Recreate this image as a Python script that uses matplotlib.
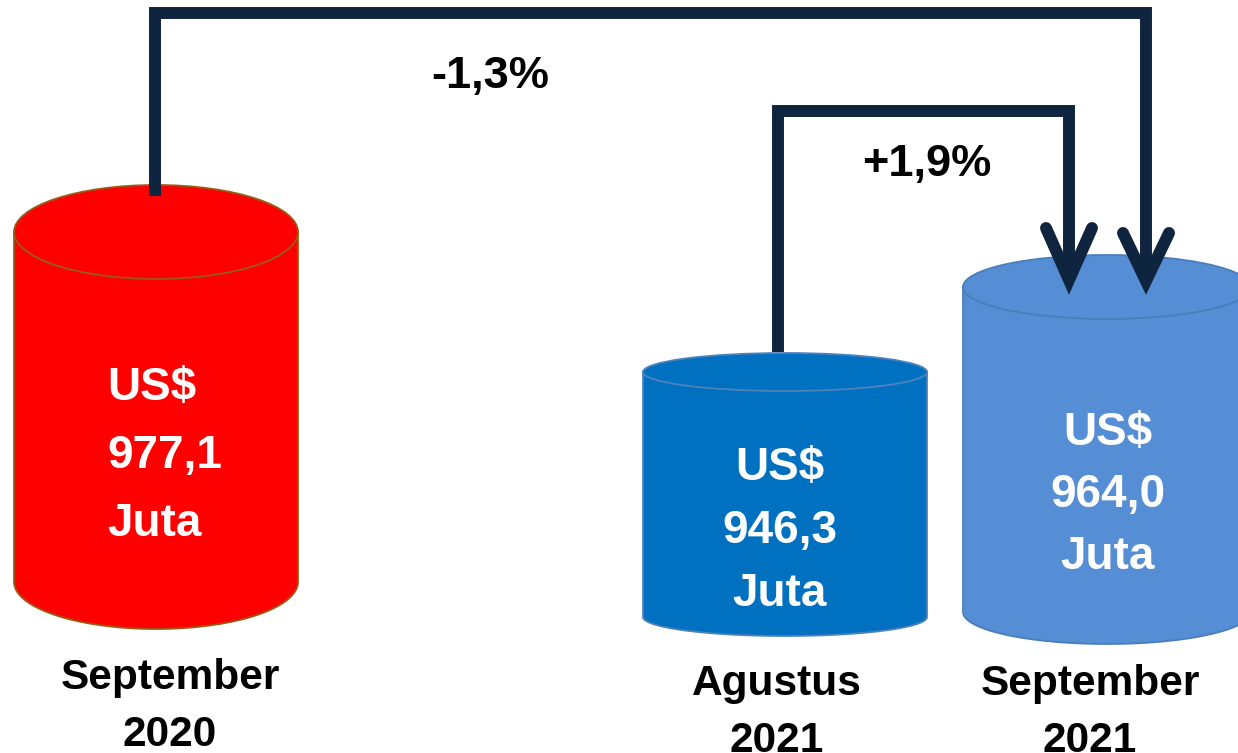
import numpy as np
import matplotlib.pyplot as plt
from matplotlib.patches import Ellipse, Polygon

# data
periods = ['September\n2020', 'Agustus\n2021', 'September\n2021']
values = [977.1, 946.3, 964.0]
changes = ['-1,3%', '+1,9%']

# layout (pixel space)
W, H = 1238, 753
cyl_x0 = [14, 643, 963]
cyl_x1 = [298, 927, 1251]
cyl_top = [232, 372, 287]
cyl_bot = [582, 617, 612]
cyl_ry = [47, 19, 32]
cyl_face = ['#FF0000', '#0070C0', '#558ED5']
cyl_edge = ['#9A5B18', '#4F81BD', '#4A7EBB']
navy = '#0F243E'

plt.rcParams['font.family'] = ['Liberation Sans', 'DejaVu Sans']

fig = plt.figure(figsize=(W / 100, H / 100), dpi=100)
ax = fig.add_axes([0, 0, 1, 1])
ax.set_xlim(0, W)
ax.set_ylim(H, 0)
ax.axis('off')


def cylinder(x0, x1, yt, yb, ry, fc, ec):
    cx = (x0 + x1) / 2
    rx = (x1 - x0) / 2
    t = np.linspace(np.pi, 0, 80)
    arc = np.column_stack([cx + rx * np.cos(t), yb + ry * np.sin(t)])
    pts = np.vstack([[x0, yt], arc, [x1, yt]])
    ax.add_patch(Polygon(pts, closed=True, fc=fc, ec=ec, lw=1.3, zorder=1))
    ax.add_patch(Ellipse((cx, yt), 2 * rx, 2 * ry, fc=fc, ec=ec, lw=1.3, zorder=2))


for i in range(3):
    cylinder(cyl_x0[i], cyl_x1[i], cyl_top[i], cyl_bot[i], cyl_ry[i],
             cyl_face[i], cyl_edge[i])

# value text inside cylinders
txt = dict(color='white', fontsize=33, fontweight='bold', zorder=5)
val_x = [107, 780, 1108]
val_ha = ['left', 'center', 'center']
val_base = [400, 480, 445]
val_step = [68, 63, 62]
for i, v in enumerate(values):
    lines = ['US$', f'{v:.1f}'.replace('.', ','), 'Juta']
    for k, s in enumerate(lines):
        ax.text(val_x[i], val_base[i] + k * val_step[i], s, ha=val_ha[i],
                va='baseline', **txt)

# period labels
lab_x = [170, 777, 1090]
lab_base = [689, 695, 695]
for i, p in enumerate(periods):
    for k, s in enumerate(p.split('\n')):
        ax.text(lab_x[i], lab_base[i] + k * 57, s, ha='center', va='baseline',
                fontsize=30.5, fontweight='bold', color='black')

# connectors
lw = 8.6
ax.plot([155, 155, 1146, 1146], [196, 13, 13, 272], color=navy, lw=lw,
        solid_joinstyle='miter', solid_capstyle='butt', zorder=6)
ax.plot([778, 778, 1069, 1069], [352, 111, 111, 270], color=navy, lw=lw,
        solid_joinstyle='miter', solid_capstyle='butt', zorder=6)
for tx, ty, ax_y in [(1069, 280, 228), (1146, 281, 233)]:
    ax.plot([tx - 23, tx, tx + 23], [ax_y, ty, ax_y], color=navy, lw=lw,
            solid_joinstyle='miter', solid_capstyle='round', zorder=6)

ax.text(490, 88, changes[0], ha='center', va='baseline', fontsize=32.5,
        fontweight='bold', color='black')
ax.text(927, 176, changes[1], ha='center', va='baseline', fontsize=32.5,
        fontweight='bold', color='black')

fig.savefig('out.png', dpi=100)
